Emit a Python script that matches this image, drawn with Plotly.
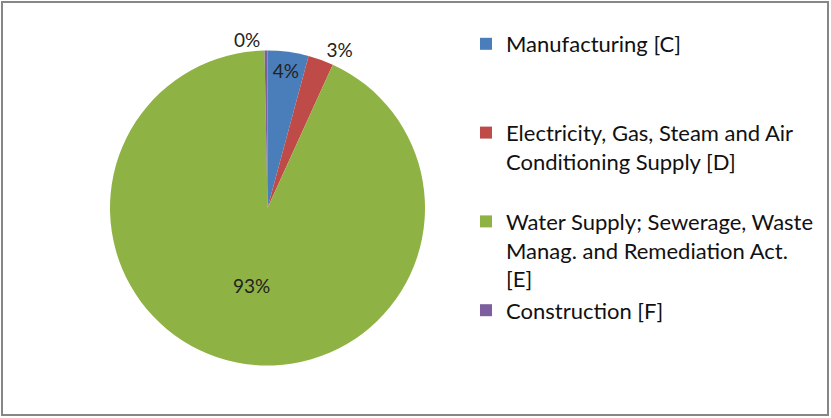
import plotly.graph_objects as go

categories = [
    "Manufacturing [C]<br> <br> ",
    "Electricity, Gas, Steam and Air<br>Conditioning Supply [D]<br> ",
    "Water Supply; Sewerage, Waste<br>Manag. and Remediation Act.<br>[E]",
    "Construction [F]",
]
shares = [4.2, 2.6, 92.9, 0.3]
colors = ["#4A7EBB", "#BE4B48", "#8FB244", "#7D5FA0"]
text_positions = ["inside", "outside", "inside", "outside"]

W, H = 831, 418
cx, cy, r = 267.5, 208, 157.5

fig = go.Figure(
    go.Pie(
        labels=categories,
        values=shares,
        sort=False,
        direction="clockwise",
        rotation=0,
        marker=dict(colors=colors, line=dict(width=0)),
        textinfo="percent",
        texttemplate="%{percent:.0%}",
        textposition=text_positions,
        insidetextorientation="horizontal",
        textfont=dict(family="Lato", size=19, color="#222222"),
        domain=dict(
            x=[(cx - r) / W, (cx + r) / W],
            y=[(H - cy - r) / H, (H - cy + r) / H],
        ),
        showlegend=True,
        hoverinfo="percent",
    )
)

fig.update_layout(
    width=W,
    height=H,
    margin=dict(l=0, r=0, t=0, b=0),
    paper_bgcolor="white",
    plot_bgcolor="white",
    font=dict(family="Lato", size=22, color="#111111"),
    legend=dict(
        x=466 / W,
        y=1 - 23 / H,
        xanchor="left",
        yanchor="top",
        valign="top",
        itemsizing="constant",
        tracegroupgap=0,
        font=dict(family="Lato", size=22, color="#111111"),
        bgcolor="rgba(0,0,0,0)",
    ),
    uniformtext=dict(minsize=18, mode="show"),
    shapes=[
        dict(
            type="rect",
            xref="paper",
            yref="paper",
            x0=2 / W,
            x1=828 / W,
            y0=(H - 415) / H,
            y1=(H - 2) / H,
            line=dict(color="#868686", width=2),
            fillcolor="rgba(0,0,0,0)",
        )
    ],
)

fig.write_html("out.html")
